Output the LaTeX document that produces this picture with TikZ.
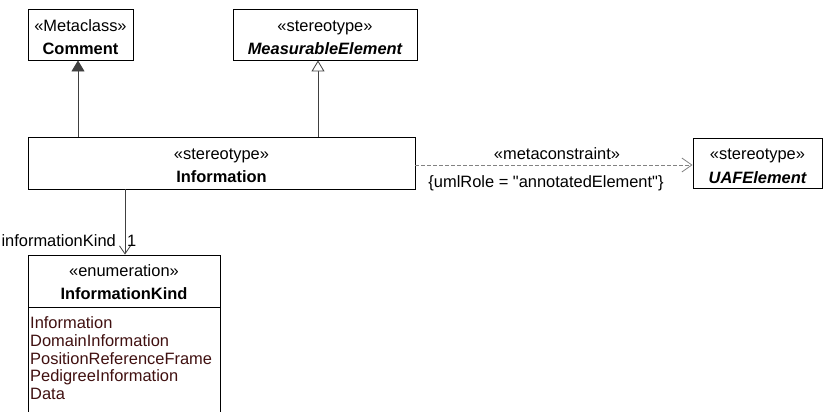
\documentclass[tikz,border=0pt]{standalone}
\usepackage{fontspec}
\setmainfont{Liberation Sans}[Ligatures=TeXOff]
\usetikzlibrary{arrows.meta}
\definecolor{attr}{RGB}{64,16,16}
\definecolor{linegray}{RGB}{64,64,64}
\definecolor{dashgray}{RGB}{130,130,130}
\tikzset{
  classbox/.style={draw=black, line width=0.9bp, rectangle, inner sep=0pt, fill=white},
  txt/.style={anchor=base, inner sep=0pt, font=\fontsize{16.5}{18}\selectfont},
  btxt/.style={txt, font=\fontsize{16.5}{18}\selectfont\bfseries},
  bitxt/.style={txt, font=\fontsize{16.5}{18}\selectfont\bfseries\itshape},
  atxt/.style={anchor=base west, inner sep=0pt, text=attr, font=\fontsize{16.5}{18}\selectfont},
  conn/.style={draw=linegray, line width=0.8bp},
}
\begin{document}
\begin{tikzpicture}[x=1bp,y=-1bp]
\useasboundingbox (0,0) rectangle (823,411);
\clip (0,0) rectangle (823,411);
% boxes
\node[classbox, minimum width=105bp, minimum height=51bp] (comment) at (80.5,34.5) {};
\node[classbox, minimum width=184bp, minimum height=51bp] (meas) at (325,34.5) {};
\node[classbox, minimum width=387bp, minimum height=52bp] (info) at (221.5,163) {};
\node[classbox, minimum width=129bp, minimum height=50bp] (uaf) at (757.5,163) {};
\node[classbox, minimum width=192bp, minimum height=170bp] (kind) at (124,340) {};
\coordinate (sepL) at (28,307);
\coordinate (sepR) at (220,307);
\draw[black, line width=0.9bp] (sepL) -- (sepR);
% texts
\node[txt] (t1) at (80.5,31) {«Metaclass»};
\node[btxt] (t2) at (80.5,54) {Comment};
\node[txt] (t3) at (325,31) {«stereotype»};
\node[bitxt] (t4) at (325,54) {MeasurableElement};
\node[txt] (t5) at (221.5,159) {«stereotype»};
\node[btxt] (t6) at (221.5,182) {Information};
\node[txt] (t7) at (757.5,159) {«stereotype»};
\node[bitxt] (t8) at (757.5,183) {UAFElement};
\node[txt] (t9) at (124,276) {«enumeration»};
\node[btxt] (t10) at (124,299) {InformationKind};
\node[atxt] (a1) at (30,328) {Information};
\node[atxt] (a2) at (30,346) {DomainInformation};
\node[atxt] (a3) at (30,364) {PositionReferenceFrame};
\node[atxt] (a4) at (30,381.5) {PedigreeInformation};
\node[atxt] (a5) at (30,399) {Data};
% connectors
\draw[conn, -{Triangle[length=11bp,width=13bp]}] (info.north -| comment.south) ++(-2.5,0) coordinate (c1s) -- (c1s |- comment.south);
\draw[conn, -{Triangle[open,length=11bp,width=13bp,fill=white]}] (info.north -| meas.south) ++(-7,0) coordinate (c2s) -- (c2s |- meas.south);
\coordinate (c3s) at (125,189);
\draw[conn, -{Straight Barb[length=8bp,width=11bp]}] (c3s) -- (c3s |- kind.north);
\draw[draw=dashgray, line width=0.8bp, dash pattern=on 4bp off 2bp, -{Straight Barb[length=10bp,width=14bp,line width=0.8bp]}] (info.east) ++(0,2) coordinate (c4s) -- (c4s -| uaf.west);
% labels
\node[txt] (l1) at (557,159) {«metaconstraint»};
\node[txt] (l2) at (546,187) {\{umlRole = "annotatedElement"\}};
\node[txt, anchor=base east] (l3) at (116,246) {informationKind};
\node[txt, anchor=base west] (l4) at (127,246) {1};
\end{tikzpicture}
\end{document}
